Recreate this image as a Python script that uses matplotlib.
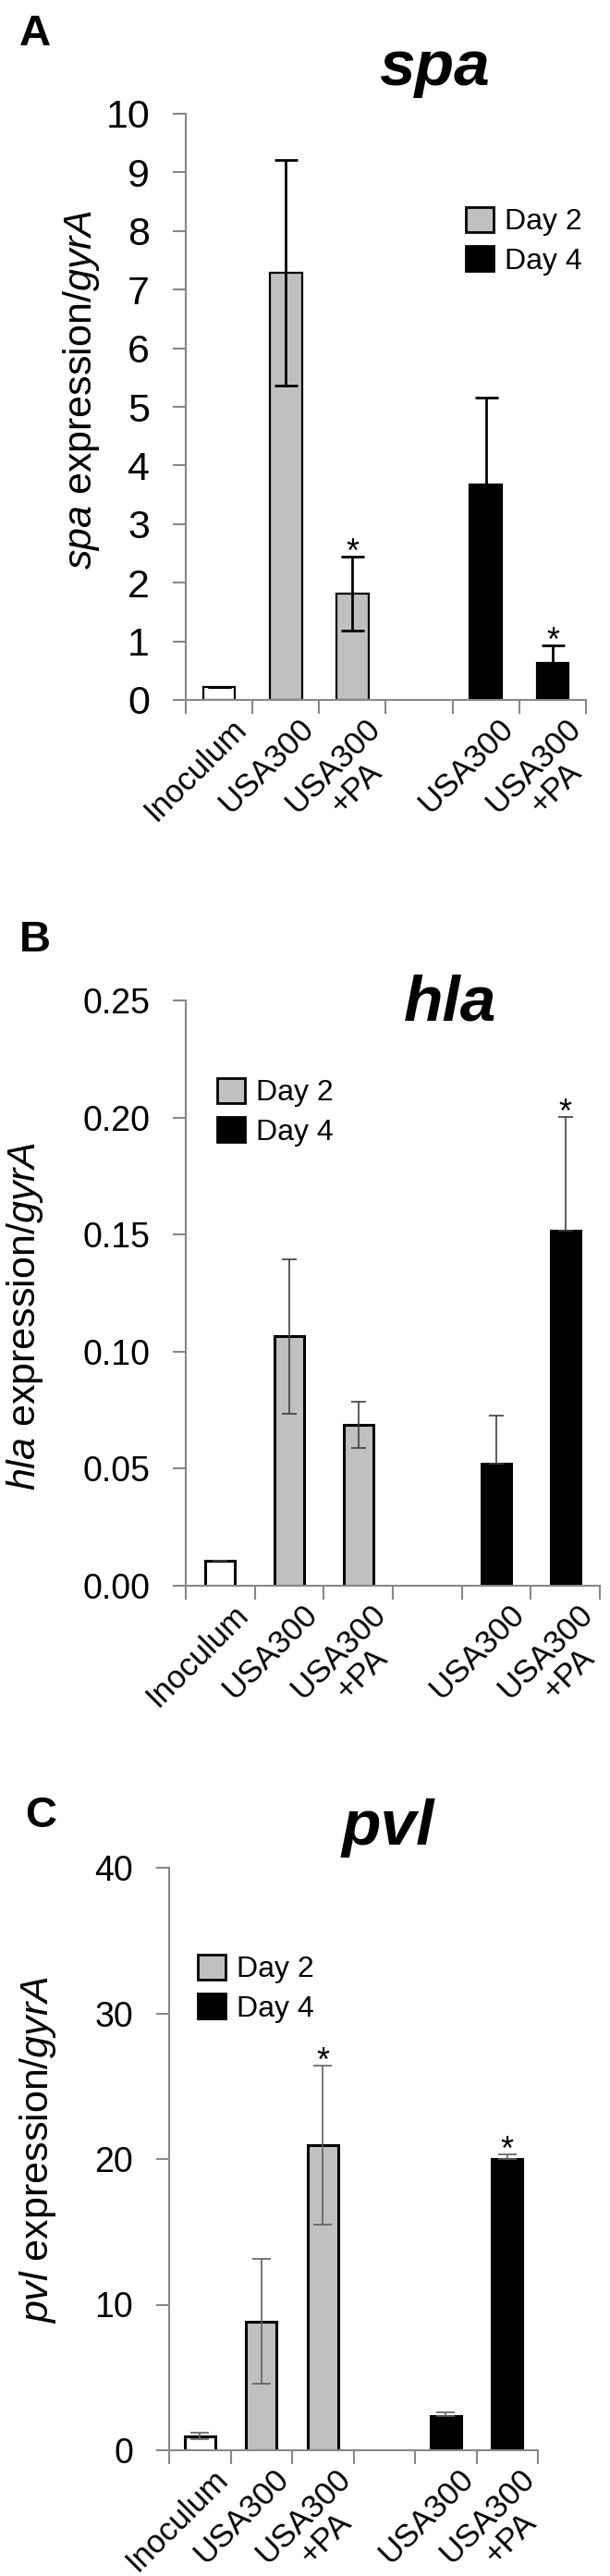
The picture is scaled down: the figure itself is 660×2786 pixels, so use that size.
import matplotlib
matplotlib.use('Agg')
from matplotlib import pyplot as plt
from matplotlib import ticker, transforms
from matplotlib.patches import Patch

# 字体：Arial 风格
plt.rcParams['font.family'] = ['Liberation Sans', 'DejaVu Sans']
plt.rcParams['mathtext.fontset'] = 'custom'
plt.rcParams['mathtext.rm'] = 'Liberation Sans'
plt.rcParams['mathtext.it'] = 'Liberation Sans:italic'
plt.rcParams['mathtext.bf'] = 'Liberation Sans:bold'

#############################################
# 数据
#############################################
# '' 为两组之间的空位
categories = ['Inoculum', 'USA300', 'USA300\n+PA', '', 'USA300', 'USA300\n+PA']
groups = ['Inoculum', 'Day 2', 'Day 2', 'Day 4', 'Day 4']

spa_mean = [0.22, 7.29, 1.81, 3.68, 0.63]
spa_err = [0.0, 1.92, 0.63, 1.48, 0.30]
spa_sig = [False, False, True, False, True]

hla_mean = [0.0107, 0.1066, 0.0687, 0.0521, 0.1517]
hla_err = [0.0, 0.0330, 0.0098, 0.0206, 0.0485]
hla_sig = [False, False, False, False, True]

pvl_mean = [0.98, 8.85, 20.95, 2.35, 20.0]
pvl_err = [0.2, 4.3, 5.45, 0.28, 0.3]
pvl_sig = [False, False, True, False, True]

legend_labels = ['Day 2', 'Day 4']

#############################################
# 绘图部分
#############################################
W, H = 660, 2786
fig = plt.figure(figsize=(W / 100, H / 100), dpi=100)

GRAY = '#c0c0c0'
AXIS = '#888888'
face = {'Inoculum': 'white', 'Day 2': GRAY, 'Day 4': 'black'}


def fx(px):
    return px / W


def fy(py):
    return 1 - py / H


def panel(box, mean, err, sig, ylim, ystep, yfmt, ylabel, ylab_xy,
          title, title_xy, letter, letter_xy, legend_xy,
          bar_w, bar_lw, ecolor, elw, capsize, ytick_size):
    left, right, top, bottom = box
    ax = fig.add_axes([fx(left), fy(bottom), (right - left) / W, (bottom - top) / H])

    x = [i for i, c in enumerate(categories) if c]
    labels = [c for c in categories if c]
    colors = [face[g] for g in groups]

    ax.bar(x, mean, width=bar_w, color=colors, edgecolor='black',
           linewidth=bar_lw, zorder=2)

    # 第 4 天只画正向误差线
    lower = [0 if g == 'Day 4' else e for g, e in zip(groups, err)]
    ax.errorbar(x, mean, yerr=[lower, err], fmt='none', ecolor=ecolor,
                elinewidth=elw, capsize=capsize, capthick=elw, zorder=3)

    for xi, m, e, s in zip(x, mean, err, sig):
        if s:
            ax.annotate('*', xy=(xi, m + e), xytext=(0, -4),
                        textcoords='offset points', ha='center',
                        va='baseline', fontsize=26)

    ax.set_xlim(-0.5, len(categories) - 0.5)
    ax.set_ylim(*ylim)

    # 刻度
    ax.set_yticks([ystep * k for k in range(int(round(ylim[1] / ystep)) + 1)])
    ax.yaxis.set_major_formatter(ticker.FormatStrFormatter(yfmt))
    ax.tick_params(axis='y', direction='out', length=10, width=1.5,
                   color=AXIS, labelsize=ytick_size, pad=18)

    ax.set_xticks([i - 0.5 for i in range(len(categories) + 1)])
    ax.set_xticklabels([])
    ax.tick_params(axis='x', which='major', direction='out', length=11,
                   width=1.5, color=AXIS)
    ax.set_xticks(x, labels, minor=True)
    ax.tick_params(axis='x', which='minor', length=0, pad=10, labelsize=25)
    shift = transforms.ScaledTranslation(9.5 / 72, 0, fig.dpi_scale_trans)
    for lab in ax.get_xticklabels(minor=True):
        lab.set_rotation(45)
        lab.set_ha('right')
        lab.set_va('top')
        lab.set_rotation_mode('anchor')
        lab.set_multialignment('center')
        lab.set_linespacing(1.05)
        lab.set_transform(lab.get_transform() + shift)

    for side in ['top', 'right']:
        ax.spines[side].set_visible(False)
    for side in ['left', 'bottom']:
        ax.spines[side].set_color(AXIS)
        ax.spines[side].set_linewidth(1.5)

    # 坐标轴标题
    ax.set_ylabel(ylabel, fontsize=31, va='center')
    ax.yaxis.set_label_coords((ylab_xy[0] - left) / (right - left),
                              (bottom - ylab_xy[1]) / (bottom - top))

    # 图例
    handles = [Patch(facecolor=GRAY, edgecolor='black', linewidth=2),
               Patch(facecolor='black', edgecolor='black', linewidth=2)]
    ax.legend(handles, legend_labels, loc='upper left',
              bbox_to_anchor=(fx(legend_xy[0]), fy(legend_xy[1])),
              bbox_transform=fig.transFigure, frameon=False, fontsize=23,
              handlelength=0.95, handleheight=0.9, handletextpad=0.35,
              labelspacing=0.35, borderpad=0, borderaxespad=0)

    fig.text(fx(title_xy[0]), fy(title_xy[1]), title, ha='center',
             va='baseline', fontsize=50, fontweight='bold', fontstyle='italic')
    fig.text(fx(letter_xy[0]), fy(letter_xy[1]), letter, ha='left',
             va='baseline', fontsize=34, fontweight='bold')
    return ax


panel((201, 634, 123, 757), spa_mean, spa_err, spa_sig, (0, 10), 1, '%d',
      r'$\mathit{spa}$ expression/$\mathit{gyrA}$', (88, 421),
      'spa', (470, 92), 'A', (21, 49), (504, 224),
      0.48, 1.6, 'black', 2.0, 9, 31)

panel((201, 649, 1082, 1715), hla_mean, hla_err, hla_sig, (0, 0.25), 0.05, '%.2f',
      r'$\mathit{hla}$ expression/$\mathit{gyrA}$', (27, 1423),
      'hla', (487, 1104), 'B', (21, 1029), (235, 1166),
      0.43, 2.2, '#404040', 1.2, 6, 27)

panel((183, 582, 2020, 2650), pvl_mean, pvl_err, pvl_sig, (0, 40), 10, '%d',
      r'$\mathit{pvl}$ expression/$\mathit{gyrA}$', (41, 2325),
      'pvl', (420, 1995), 'C', (27, 1976), (214, 2114),
      0.49, 2.2, '#606060', 1.2, 7, 27)

#######################
# 导出图像
#######################
plt.savefig('out.png', dpi=100)
